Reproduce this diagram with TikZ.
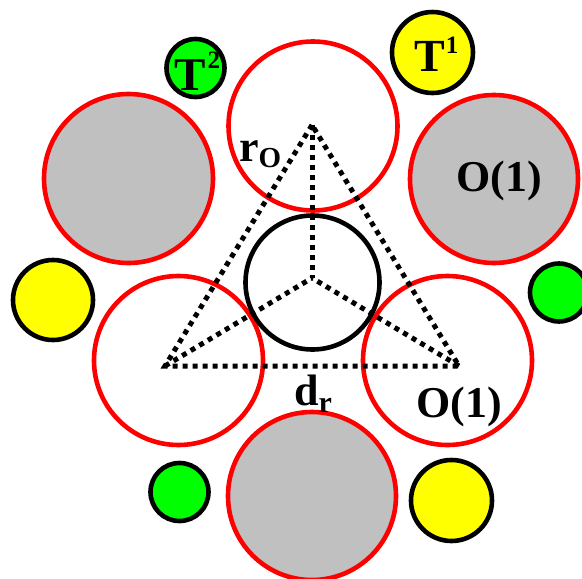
\documentclass[tikz,border=0pt]{standalone}
\usepackage{fontspec}
\setmainfont{Liberation Serif}
\definecolor{silvergray}{RGB}{192,192,192}
\definecolor{pureyellow}{RGB}{255,255,0}
\definecolor{puregreen}{RGB}{0,255,0}
\begin{document}
\begin{tikzpicture}[x=1pt,y=-1pt,
  openc/.style={draw=red,fill=white,line width=4.6pt},
  grayc/.style={draw=red,fill=silvergray,line width=4.6pt},
  blackc/.style={draw=black,line width=4.6pt},
  yellowc/.style={draw=black,fill=pureyellow,line width=4.6pt},
  greenc/.style={draw=black,fill=puregreen,line width=4.6pt},
  dotline/.style={draw=black,line width=5pt,dash pattern=on 5pt off 5pt},
  lab/.style={inner sep=0pt,font=\fontsize{44}{44}\selectfont\bfseries}]
\useasboundingbox (0,0) rectangle (582,579);
% centres
\coordinate (ctop) at (313,126);
\coordinate (cbl) at (178.5,360.5);
\coordinate (cbr) at (447.5,360.5);
\coordinate (gtl) at (128.5,178.5);
\coordinate (gtr) at (494,179);
\coordinate (gb) at (312,496);
\coordinate (cmid) at (312.5,282.5);
\coordinate (y1) at (432.5,52.5);
\coordinate (yl) at (53,300);
\coordinate (ybr) at (451.5,500.5);
\coordinate (g2) at (195.5,68);
\coordinate (gr) at (559,292.5);
\coordinate (gbl) at (179.5,492);
% triangle vertices
\coordinate (A) at (312,125);
\coordinate (B) at (165,366);
\coordinate (C) at (459,366);
\coordinate (M) at (312,278);
% circles
\draw[openc] (ctop) circle[radius=84.5pt];
\draw[openc] (cbl) circle[radius=84.5pt];
\draw[openc] (cbr) circle[radius=84.5pt];
\draw[grayc] (gtl) circle[radius=84.5pt];
\draw[grayc] (gtr) circle[radius=84pt];
\draw[grayc] (gb) circle[radius=84pt];
\draw[blackc] (cmid) circle[radius=67pt];
\draw[yellowc] (y1) circle[radius=40.5pt];
\draw[yellowc] (yl) circle[radius=40pt];
\draw[yellowc] (ybr) circle[radius=40.5pt];
\draw[greenc] (g2) circle[radius=29pt];
\draw[greenc] (gr) circle[radius=29pt];
\draw[greenc] (gbl) circle[radius=29pt];
% dotted triangle
\draw[dotline] (A) -- (B) -- (C) -- cycle;
\draw[dotline] (A) -- (M);
\draw[dotline] (B) -- (M);
\draw[dotline] (C) -- (M);
% labels
\node[lab,anchor=base west] (rO) at (239,161) {r\raisebox{-6pt}{\fontsize{29}{29}\selectfont O}};
\node[lab,anchor=base] (o1a) at (499.5,191) {O(1)};
\node[lab,anchor=base] (o1b) at (459.5,417) {O(1)};
\node[lab,anchor=base west] (dr) at (294,405) {d\raisebox{-7pt}{\fontsize{30}{30}\selectfont r}};
\node[lab,anchor=base west] (t2) at (174,90) {\fontsize{47}{47}\selectfont T\kern2pt\raisebox{22pt}{\fontsize{25}{25}\selectfont 2}};
\node[lab,anchor=base west] (t1) at (414,71) {\fontsize{46}{46}\selectfont T\kern1pt\raisebox{18pt}{\fontsize{25}{25}\selectfont 1}};
\end{tikzpicture}
\end{document}
